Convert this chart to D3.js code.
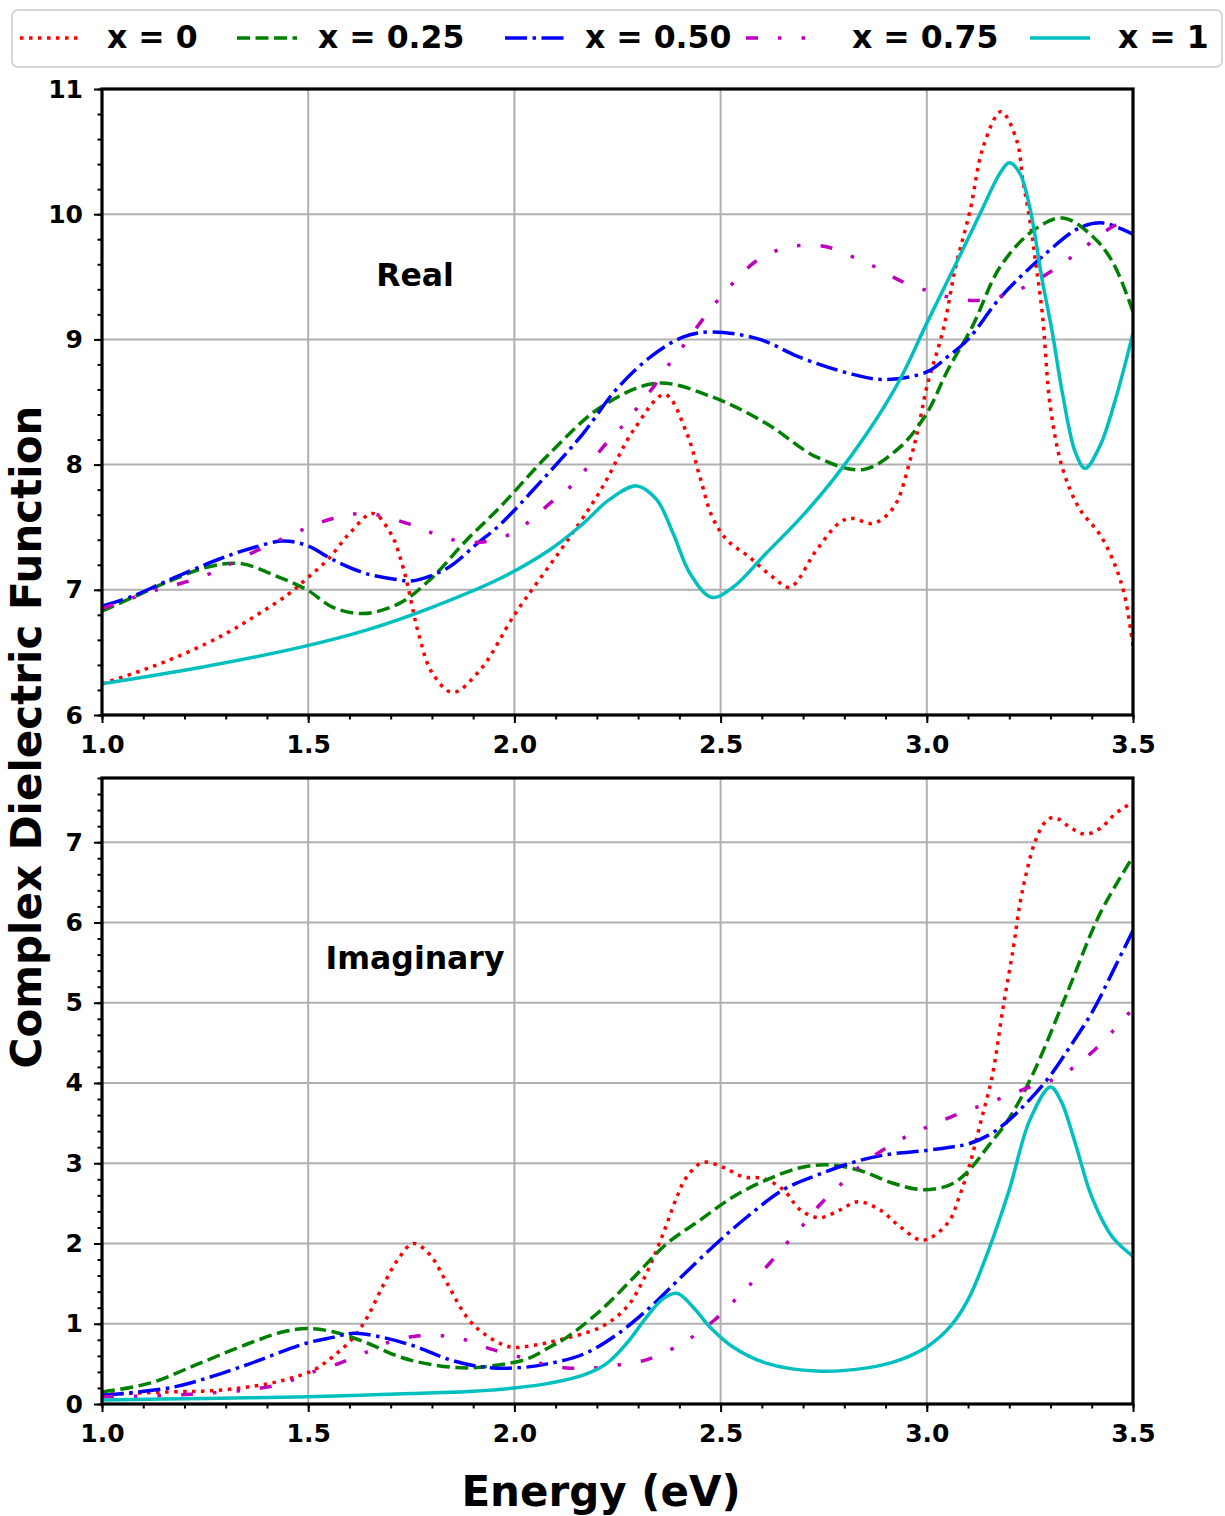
<!DOCTYPE html>
<html><head><meta charset="utf-8">
<script src="https://cdn.jsdelivr.net/npm/d3@7"></script>
<style>body{margin:0;background:#fff}svg{display:block}text{font-family:"DejaVu Sans",sans-serif;font-weight:bold}</style>
</head><body>
<script>
// ---------- data ----------
const seriesNames = ["x = 0", "x = 0.25", "x = 0.50", "x = 0.75", "x = 1"];
const xTicks = [1.0, 1.5, 2.0, 2.5, 3.0, 3.5];
const yTicksReal = [6, 7, 8, 9, 10, 11];
const yTicksImag = [0, 1, 2, 3, 4, 5, 6, 7];

const realX0 = [[1.0,6.25],[1.1,6.36],[1.2,6.49],[1.3,6.65],[1.376,6.80],[1.45,6.96],[1.5,7.10],[1.55,7.25],[1.6,7.45],[1.657,7.61],[1.70,7.45],[1.73,7.18],[1.77,6.62],[1.80,6.34],[1.85,6.18],[1.917,6.36],[2.0,6.80],[2.06,7.08],[2.13,7.40],[2.21,7.80],[2.29,8.28],[2.365,8.56],[2.418,8.25],[2.45,7.90],[2.48,7.58],[2.515,7.40],[2.57,7.26],[2.627,7.10],[2.668,7.02],[2.733,7.32],[2.79,7.54],[2.82,7.57],[2.87,7.53],[2.92,7.66],[2.96,8.04],[2.98,8.30],[3.0,8.62],[3.04,9.08],[3.07,9.58],[3.105,10.03],[3.137,10.54],[3.18,10.82],[3.218,10.59],[3.233,10.27],[3.25,9.95],[3.262,9.66],[3.28,9.21],[3.30,8.45],[3.33,7.96],[3.37,7.65],[3.42,7.44],[3.456,7.2],[3.48,6.95],[3.5,6.55]];
const realX025 = [[1.0,6.83],[1.075,6.94],[1.157,7.06],[1.254,7.18],[1.335,7.21],[1.43,7.10],[1.497,7.0],[1.56,6.86],[1.633,6.81],[1.72,6.89],[1.795,7.08],[1.885,7.40],[1.965,7.66],[2.086,8.09],[2.21,8.46],[2.345,8.65],[2.48,8.54],[2.61,8.33],[2.733,8.06],[2.845,7.96],[2.935,8.14],[3.0,8.41],[3.05,8.75],[3.11,9.10],[3.178,9.58],[3.258,9.87],[3.33,9.97],[3.403,9.82],[3.452,9.61],[3.5,9.22]];
const realX050 = [[1.0,6.87],[1.075,6.95],[1.157,7.07],[1.28,7.24],[1.36,7.33],[1.44,7.39],[1.5,7.35],[1.56,7.24],[1.64,7.13],[1.72,7.08],[1.75,7.07],[1.836,7.17],[1.91,7.37],[1.965,7.52],[2.06,7.85],[2.167,8.25],[2.247,8.60],[2.33,8.86],[2.41,9.02],[2.48,9.06],[2.595,9.0],[2.69,8.86],[2.81,8.73],[2.895,8.68],[3.0,8.74],[3.05,8.86],[3.1,9.0],[3.18,9.34],[3.29,9.69],[3.37,9.89],[3.427,9.93],[3.5,9.84]];
const realX075 = [[1.0,6.85],[1.133,7.0],[1.19,7.05],[1.262,7.13],[1.367,7.30],[1.487,7.48],[1.56,7.57],[1.64,7.61],[1.74,7.53],[1.795,7.46],[1.85,7.40],[1.917,7.38],[1.98,7.43],[2.03,7.53],[2.086,7.69],[2.135,7.82],[2.175,7.97],[2.215,8.14],[2.26,8.30],[2.297,8.45],[2.337,8.62],[2.377,8.81],[2.41,8.95],[2.45,9.13],[2.49,9.30],[2.53,9.45],[2.58,9.61],[2.636,9.71],[2.69,9.75],[2.757,9.74],[2.82,9.66],[2.874,9.58],[2.935,9.47],[3.0,9.39],[3.05,9.34],[3.117,9.31],[3.185,9.35],[3.238,9.42],[3.30,9.54],[3.352,9.66],[3.396,9.77],[3.45,9.90],[3.5,9.97]];
const realX1 = [[1.0,6.25],[1.238,6.38],[1.48,6.54],[1.643,6.68],[1.80,6.86],[1.965,7.09],[2.086,7.32],[2.167,7.53],[2.23,7.72],[2.297,7.83],[2.345,7.72],[2.385,7.45],[2.426,7.13],[2.478,6.94],[2.53,7.02],[2.61,7.29],[2.69,7.56],[2.773,7.88],[2.855,8.25],[2.935,8.68],[3.0,9.13],[3.073,9.62],[3.13,10.01],[3.178,10.33],[3.20,10.41],[3.225,10.33],[3.25,10.05],[3.28,9.47],[3.303,9.08],[3.33,8.55],[3.36,8.1],[3.384,7.97],[3.42,8.15],[3.46,8.55],[3.5,9.05]];

const imagX0 = [[1.0,0.12],[1.157,0.15],[1.28,0.17],[1.40,0.25],[1.456,0.32],[1.512,0.42],[1.56,0.59],[1.61,0.83],[1.643,1.08],[1.68,1.46],[1.72,1.82],[1.755,2.0],[1.795,1.86],[1.836,1.51],[1.885,1.08],[1.925,0.88],[1.99,0.71],[2.045,0.73],[2.11,0.80],[2.21,0.96],[2.273,1.21],[2.312,1.54],[2.345,1.92],[2.37,2.25],[2.394,2.58],[2.418,2.83],[2.457,3.01],[2.506,2.95],[2.555,2.83],[2.603,2.81],[2.652,2.67],[2.693,2.42],[2.74,2.32],[2.79,2.42],[2.833,2.52],[2.886,2.42],[2.935,2.21],[2.99,2.04],[3.05,2.25],[3.08,2.6],[3.105,3.0],[3.13,3.5],[3.158,4.07],[3.185,4.94],[3.21,5.69],[3.226,6.24],[3.243,6.65],[3.262,7.0],[3.287,7.25],[3.308,7.31],[3.352,7.17],[3.384,7.10],[3.42,7.17],[3.456,7.35],[3.478,7.43],[3.5,7.5]];
const imagX025 = [[1.0,0.15],[1.116,0.26],[1.238,0.51],[1.359,0.76],[1.44,0.90],[1.497,0.94],[1.56,0.90],[1.643,0.76],[1.72,0.59],[1.80,0.49],[1.885,0.45],[1.965,0.49],[2.03,0.56],[2.086,0.71],[2.127,0.83],[2.21,1.17],[2.29,1.58],[2.37,2.0],[2.45,2.29],[2.53,2.58],[2.61,2.79],[2.69,2.94],[2.757,2.98],[2.838,2.91],[2.918,2.75],[2.99,2.67],[3.056,2.73],[3.1,2.9],[3.15,3.22],[3.2,3.56],[3.258,4.12],[3.34,5.12],[3.42,6.11],[3.5,6.82]];
const imagX050 = [[1.0,0.11],[1.173,0.21],[1.335,0.46],[1.497,0.76],[1.56,0.83],[1.61,0.88],[1.68,0.83],[1.764,0.71],[1.844,0.55],[1.925,0.46],[2.006,0.45],[2.08,0.50],[2.167,0.62],[2.247,0.86],[2.33,1.21],[2.40,1.56],[2.49,2.0],[2.564,2.33],[2.652,2.67],[2.733,2.85],[2.814,3.0],[2.894,3.10],[3.0,3.16],[3.056,3.2],[3.1,3.24],[3.15,3.35],[3.2,3.54],[3.29,4.03],[3.347,4.45],[3.403,4.90],[3.452,5.40],[3.5,5.9]];
const imagX075 = [[1.0,0.09],[1.213,0.12],[1.40,0.21],[1.463,0.30],[1.512,0.40],[1.577,0.51],[1.643,0.65],[1.69,0.76],[1.755,0.84],[1.824,0.85],[1.88,0.80],[1.946,0.68],[2.01,0.59],[2.06,0.51],[2.127,0.45],[2.19,0.45],[2.256,0.49],[2.32,0.55],[2.38,0.68],[2.43,0.83],[2.486,1.05],[2.53,1.27],[2.57,1.48],[2.62,1.76],[2.66,2.0],[2.70,2.23],[2.74,2.48],[2.79,2.73],[2.833,2.94],[2.886,3.14],[2.942,3.31],[2.996,3.44],[3.05,3.56],[3.1,3.66],[3.15,3.75],[3.2,3.85],[3.25,3.95],[3.3,4.03],[3.352,4.18],[3.40,4.38],[3.45,4.64],[3.5,4.93]];
const imagX1 = [[1.0,0.05],[1.25,0.07],[1.5,0.09],[1.75,0.13],[1.9,0.16],[2.0,0.2],[2.086,0.26],[2.167,0.36],[2.225,0.51],[2.273,0.76],[2.32,1.08],[2.36,1.31],[2.394,1.38],[2.433,1.21],[2.474,0.96],[2.53,0.71],[2.61,0.51],[2.733,0.41],[2.855,0.45],[2.935,0.55],[3.0,0.71],[3.056,0.96],[3.1,1.3],[3.15,1.92],[3.2,2.67],[3.25,3.54],[3.30,3.95],[3.325,3.78],[3.36,3.25],[3.4,2.58],[3.45,2.08],[3.5,1.84]];

const realSeries = [realX0, realX025, realX050, realX075, realX1];
const imagSeries = [imagX0, imagX025, imagX050, imagX075, imagX1];

// ---------- styles ----------
const colors = ["#ff0000", "#008000", "#0000ff", "#bf00bf", "#00bfbf"];
const dashes = ["3.5,5.5", "13,5.5", "22,5.5,3.5,5.5", "12,20,3.5,20,3.5,20", null];

const W = 1225, H = 1516;
const L = 102, R = 1133;
const svg = d3.select("body").append("svg").attr("width", W).attr("height", H);

const x = d3.scaleLinear().domain([1, 3.5]).range([L, R]);
const panels = [
  {data: realSeries, y: d3.scaleLinear().domain([6, 11]).range([715, 89]), ticks: yTicksReal, minor: d3.range(6, 11.001, 0.2), label: "Real", lx: 415, ly: 286, id: "c1"},
  {data: imagSeries, y: d3.scaleLinear().domain([0, 7.8]).range([1404, 778]), ticks: yTicksImag, minor: d3.range(0, 7.801, 0.2), label: "Imaginary", lx: 415, ly: 969, id: "c2"}
];

panels.forEach(p => {
  const [yb, yt] = p.y.range();
  const g = svg.append("g");
  g.append("clipPath").attr("id", p.id).append("rect").attr("x", L).attr("y", yt).attr("width", R - L).attr("height", yb - yt);
  g.selectAll(".gx").data(xTicks).join("line").attr("x1", d => x(d)).attr("x2", d => x(d)).attr("y1", yt).attr("y2", yb).attr("stroke", "#b0b0b0").attr("stroke-width", 2);
  g.selectAll(".gy").data(p.ticks).join("line").attr("y1", d => p.y(d)).attr("y2", d => p.y(d)).attr("x1", L).attr("x2", R).attr("stroke", "#b0b0b0").attr("stroke-width", 2);
  const line = d3.line().x(d => x(d[0])).y(d => p.y(d[1])).curve(d3.curveCatmullRom.alpha(0.5));
  const cg = g.append("g").attr("clip-path", `url(#${p.id})`);
  p.data.forEach((s, i) => {
    const path = cg.append("path").attr("d", line(s)).attr("fill", "none").attr("stroke", colors[i]).attr("stroke-width", 3.5);
    if (dashes[i]) path.attr("stroke-dasharray", dashes[i]);
  });
  const xa = g.append("g").attr("transform", `translate(0,${yb})`).call(d3.axisBottom(x).tickValues(xTicks).tickFormat(d3.format(".1f")).tickSize(8).tickPadding(12));
  const xm = g.append("g").attr("transform", `translate(0,${yb})`).call(d3.axisBottom(x).tickValues(d3.range(1, 3.5001, 0.1)).tickFormat("").tickSize(4.5));
  const ya = g.append("g").attr("transform", `translate(${L},0)`).call(d3.axisLeft(p.y).tickValues(p.ticks).tickFormat(d3.format("d")).tickSize(8).tickPadding(11));
  const ym = g.append("g").attr("transform", `translate(${L},0)`).call(d3.axisLeft(p.y).tickValues(p.minor).tickFormat("").tickSize(4.5));
  [xa, xm, ya, ym].forEach(a => {
    a.select(".domain").remove();
    a.selectAll("line").attr("stroke", "#000").attr("stroke-width", 2);
    a.selectAll("text").attr("fill", "#000").style("font-size", "25px").style("font-weight", "bold").style("font-family", "DejaVu Sans");
  });
  g.append("rect").attr("x", L).attr("y", yt).attr("width", R - L).attr("height", yb - yt).attr("fill", "none").attr("stroke", "#000").attr("stroke-width", 3.2);
  g.append("text").attr("x", p.lx).attr("y", p.ly).attr("text-anchor", "middle").style("font-size", "31.5px").text(p.label);
});

svg.append("text").attr("x", 601).attr("y", 1506).attr("text-anchor", "middle").style("font-size", "42px").text("Energy (eV)");
svg.append("text").attr("transform", "translate(41,737) rotate(-90)").attr("text-anchor", "middle").style("font-size", "42px").text("Complex Dielectric Function");

const lg = svg.append("g");
lg.append("rect").attr("x", 12).attr("y", 10).attr("width", 1210).attr("height", 57).attr("rx", 6).attr("fill", "#fff").attr("stroke", "#d6d6d6").attr("stroke-width", 2);
const legX = [20, 237, 505, 746, 1030];
const textX = [107, 318, 585, 852, 1118];
seriesNames.forEach((n, i) => {
  const l = lg.append("line").attr("x1", legX[i]).attr("x2", legX[i] + 60).attr("y1", 38).attr("y2", 38).attr("stroke", colors[i]).attr("stroke-width", 3.5);
  if (dashes[i]) l.attr("stroke-dasharray", dashes[i]);
  lg.append("text").attr("x", textX[i]).attr("y", 48).style("font-size", "31.5px").text(n);
});
</script>
</body></html>
